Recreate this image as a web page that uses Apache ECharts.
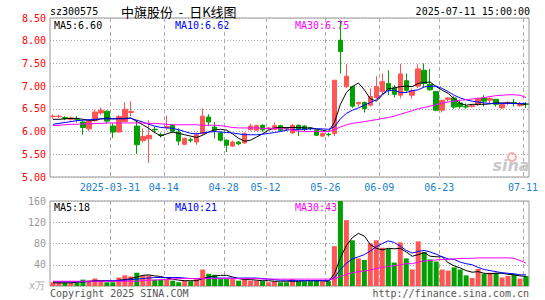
<!DOCTYPE html>
<html>
<head>
<meta charset="utf-8">
<script src="https://cdn.jsdelivr.net/npm/echarts@6/dist/echarts.min.js"></script>
<style>
html, body { margin: 0; padding: 0; background: #fff; }
#chart { width: 545px; height: 300px; }
</style>
</head>
<body>
<div id="chart"></div>
<script>
// 交易日
const dates = [
  '2025-03-17','2025-03-18','2025-03-19','2025-03-20','2025-03-21','2025-03-24','2025-03-25','2025-03-26','2025-03-27','2025-03-28',
  '2025-03-31','2025-04-01','2025-04-02','2025-04-03','2025-04-07','2025-04-08','2025-04-09','2025-04-10','2025-04-11','2025-04-14',
  '2025-04-15','2025-04-16','2025-04-17','2025-04-18','2025-04-21','2025-04-22','2025-04-23','2025-04-24','2025-04-25','2025-04-28',
  '2025-04-29','2025-04-30','2025-05-06','2025-05-07','2025-05-08','2025-05-09','2025-05-12','2025-05-13','2025-05-14','2025-05-15',
  '2025-05-16','2025-05-19','2025-05-20','2025-05-21','2025-05-22','2025-05-23','2025-05-26','2025-05-27','2025-05-28','2025-05-29',
  '2025-05-30','2025-06-03','2025-06-04','2025-06-05','2025-06-06','2025-06-09','2025-06-10','2025-06-11','2025-06-12','2025-06-13',
  '2025-06-16','2025-06-17','2025-06-18','2025-06-19','2025-06-20','2025-06-23','2025-06-24','2025-06-25','2025-06-26','2025-06-27',
  '2025-06-30','2025-07-01','2025-07-02','2025-07-03','2025-07-04','2025-07-07','2025-07-08','2025-07-09','2025-07-10','2025-07-11'
]

const opens = [
  6.33,6.33,6.31,6.27,6.28,6.21,6.06,6.24,6.41,6.45,
  6.12,5.99,6.22,6.42,6.12,5.80,5.84,6.05,5.93,6.09,
  6.14,5.99,5.72,5.82,5.77,5.96,6.32,6.10,5.97,5.81,
  5.68,5.77,5.75,6.04,6.03,6.14,6.06,6.05,6.13,6.07,
  5.97,6.14,6.12,6.08,6.03,5.90,5.94,5.96,8.01,6.99,
  6.99,6.61,6.64,6.58,6.75,6.88,7.06,6.96,6.80,7.12,
  6.80,7.00,7.35,7.04,6.88,6.47,6.71,6.74,6.63,6.55,
  6.55,6.60,6.74,6.69,6.71,6.52,6.62,6.64,6.57,6.61
]
const closes = [
  6.34,6.34,6.29,6.30,6.27,6.09,6.24,6.43,6.47,6.23,
  5.99,6.33,6.49,6.44,5.71,5.89,5.92,6.04,5.92,6.11,
  6.01,5.79,5.85,5.81,5.93,6.34,6.21,6.03,5.81,5.70,
  5.77,5.73,5.96,6.12,6.13,6.04,6.08,6.13,6.03,6.06,
  6.14,6.05,6.05,6.07,5.92,5.96,5.93,7.13,7.76,7.22,
  6.56,6.64,6.51,6.77,6.99,7.10,6.92,6.82,7.27,6.91,
  6.90,7.38,7.06,6.92,6.47,6.69,6.74,6.54,6.55,6.54,
  6.57,6.73,6.67,6.73,6.60,6.60,6.64,6.63,6.60,6.60
]
const lows = [
  6.29,6.30,6.25,6.24,6.20,5.93,6.01,6.22,6.37,6.17,
  5.86,5.97,6.20,6.34,5.51,5.76,5.31,5.97,5.87,6.03,
  5.98,5.70,5.70,5.76,5.71,5.93,6.12,5.85,5.78,5.55,
  5.66,5.70,5.73,6.02,6.01,6.00,6.04,6.03,6.01,6.02,
  5.95,5.90,6.01,6.03,5.90,5.88,5.89,5.90,7.28,6.96,
  6.52,6.55,6.42,6.55,6.72,6.82,6.80,6.75,6.73,6.85,
  6.72,6.96,6.98,6.90,6.45,6.42,6.66,6.50,6.50,6.50,
  6.53,6.56,6.55,6.62,6.55,6.50,6.58,6.55,6.55,6.52
]
const highs = [
  6.38,6.37,6.34,6.33,6.34,6.23,6.26,6.48,6.53,6.46,
  6.18,6.36,6.65,6.67,6.25,6.07,6.25,6.10,5.98,6.35,
  6.16,6.07,5.87,5.87,5.98,6.51,6.38,6.21,6.00,5.83,
  5.80,5.79,5.98,6.17,6.15,6.16,6.10,6.20,6.15,6.10,
  6.16,6.15,6.14,6.10,6.05,5.98,5.97,7.13,8.45,7.48,
  7.01,6.66,6.66,6.95,7.22,7.28,7.35,7.02,7.49,7.28,
  6.95,7.48,7.50,7.38,6.90,6.70,6.76,6.78,6.70,6.62,
  6.60,6.75,6.80,6.75,6.72,6.62,6.67,6.72,6.65,6.65
]

const ma5 = [
  6.27,6.27,6.28,6.29,6.29,6.27,6.25,6.25,6.28,6.30,
  6.28,6.29,6.29,6.30,6.22,6.15,6.07,5.98,5.90,5.95,
  5.99,5.96,5.93,5.90,5.87,5.92,5.99,6.04,6.05,6.03,
  5.95,5.85,5.79,5.81,5.88,5.95,6.03,6.08,6.09,6.09,
  6.09,6.09,6.08,6.08,6.06,6.03,6.00,6.20,6.60,6.86,
  6.99,7.07,6.92,6.72,6.67,6.80,6.94,6.96,6.99,7.00,
  6.99,7.06,7.08,7.09,6.99,6.91,6.84,6.72,6.62,6.58,
  6.60,6.60,6.60,6.61,6.63,6.63,6.63,6.62,6.61,6.60
]
const ma10 = [
  6.16,6.18,6.20,6.22,6.24,6.25,6.26,6.27,6.28,6.28,
  6.28,6.28,6.28,6.29,6.25,6.21,6.16,6.12,6.09,6.08,
  6.07,6.04,6.00,5.96,5.95,5.97,5.99,6.00,5.99,5.98,
  5.97,5.95,5.93,5.93,5.93,5.94,5.96,5.98,6.00,6.03,
  6.05,6.05,6.05,6.06,6.06,6.06,6.05,6.10,6.28,6.40,
  6.47,6.52,6.58,6.64,6.70,6.82,6.90,6.91,6.86,6.86,
  6.90,6.92,6.98,7.00,7.00,6.95,6.88,6.80,6.74,6.70,
  6.67,6.65,6.63,6.62,6.62,6.62,6.62,6.62,6.62,6.62
]
const ma30 = [
  6.13,6.14,6.15,6.16,6.16,6.17,6.17,6.18,6.18,6.19,
  6.19,6.19,6.19,6.19,6.19,6.19,6.18,6.18,6.17,6.16,
  6.15,6.15,6.15,6.15,6.15,6.14,6.14,6.14,6.13,6.11,
  6.09,6.08,6.08,6.08,6.08,6.07,6.07,6.07,6.06,6.06,
  6.04,6.01,6.00,6.00,6.00,6.00,6.00,6.04,6.10,6.15,
  6.18,6.20,6.22,6.24,6.26,6.29,6.31,6.34,6.38,6.42,
  6.46,6.50,6.53,6.56,6.59,6.63,6.65,6.67,6.69,6.70,
  6.72,6.73,6.75,6.77,6.79,6.80,6.81,6.81,6.80,6.75
]

// 成交量（万手）
const volumes = [
  7,7,6,6,6,12,10,14,9,7,
  7,16,20,18,25,20,20,12,12,12,
  10,7,10,9,13,31,23,21,13,13,
  13,10,12,10,10,9,7,9,7,7,
  13,9,9,9,10,9,9,75,160,124,
  86,52,49,80,86,72,70,44,82,52,
  31,84,64,50,46,31,29,35,31,20,
  15,32,23,25,25,16,19,22,14,19
]
const volMa5 = [
  6,6,6,6,7,8,9,10,10,10,
  9,11,12,14,17,20,21,19,18,15,
  13,11,10,10,10,14,17,19,20,20,
  17,14,12,12,11,10,10,9,9,9,
  9,9,10,10,10,10,9,23,53,76,
  91,99,94,78,71,68,71,70,71,64,
  56,59,63,56,55,55,44,38,34,29,
  26,27,24,23,24,24,22,21,19,18
]
const volMa10 = [
  8,8,8,8,8,8,8,9,9,10,
  10,10,11,12,13,14,15,16,16,16,
  16,16,15,14,14,14,15,15,15,15,
  15,15,15,15,15,14,13,12,11,11,
  10,10,10,10,10,10,10,16,31,43,
  51,55,59,66,74,80,85,82,75,67,
  62,65,67,64,60,55,51,50,45,42,
  40,35,31,29,27,25,24,23,21,21
]
const volMa30 = [
  9,9,9,9,9,9,9,9,9,9,
  9,9,9,9,9,10,11,11,12,12,
  13,14,14,14,14,14,14,14,14,14,
  14,14,14,14,14,13,13,13,13,13,
  13,13,13,13,13,13,13,13,18,22,
  25,27,28,30,33,35,37,38,40,42,
  42,45,47,48,49,50,50,51,52,52,
  52,53,53,53,53,53,53,52,48,43
]

// 有竖虚线和日期标签的交易日
const markedIdx = [10, 19, 29, 36, 46, 55, 65, 79]

const RED = '#ff5555'
const GREEN = '#00a000'
const MONO = 'DejaVu Sans Mono'
const last = ma5.length - 1

const candleData = opens.map(function (o, i) {
  return [o, closes[i], lows[i], highs[i]]
})

const myChart = echarts.init(document.getElementById('chart'), null, { renderer: 'svg' })

function isMarked(idx) {
  return markedIdx.indexOf(idx) >= 0
}

// 竖虚线画在该K线的左边界
function dashSeries(axisIdx) {
  return {
    type: 'custom',
    xAxisIndex: axisIdx,
    yAxisIndex: axisIdx,
    silent: true,
    z: 1,
    data: markedIdx.map(function (i) { return [i] }),
    renderItem: function (params, api) {
      const cs = params.coordSys
      const x = api.coord([api.value(0), 0])[0] - api.size([1, 0])[0] / 2
      const px = Math.round(x) + 0.5
      return {
        type: 'line',
        shape: { x1: px, y1: cs.y, x2: px, y2: cs.y + cs.height },
        style: { stroke: '#aaa', fill: null, lineWidth: 1, lineDash: [4, 3] }
      }
    }
  }
}

function dotLine() {
  return {
    show: true,
    lineStyle: { color: '#aaa', type: [1, 2], width: 1 }
  }
}

function txt(x, y, text, color, align) {
  return {
    type: 'text',
    x: x,
    y: y,
    style: {
      text: text,
      fill: color,
      font: '10px "' + MONO + '"',
      textVerticalAlign: 'middle',
      textAlign: align || 'left'
    }
  }
}

myChart.setOption({
  backgroundColor: '#fff',
  animation: false,
  grid: [
    { left: 50, right: 16, top: 18, height: 159, show: true, borderColor: '#999', borderWidth: 1 },
    { left: 50, right: 16, top: 201, height: 85, show: true, borderColor: '#999', borderWidth: 1 }
  ],
  xAxis: [
    {
      type: 'category',
      gridIndex: 0,
      data: dates,
      boundaryGap: true,
      axisLine: { show: false },
      axisTick: { show: false },
      axisLabel: {
        interval: isMarked,
        formatter: function (v, idx) { return idx === 10 ? v : v.slice(5) },
        color: '#2080d0',
        fontFamily: MONO,
        fontSize: 10,
        margin: 5,
        padding: [0, 6, 0, 0]
      },
      splitLine: { show: false }
    },
    {
      type: 'category',
      gridIndex: 1,
      data: dates,
      boundaryGap: true,
      axisLine: { show: false },
      axisTick: { show: false },
      axisLabel: { show: false },
      splitLine: { show: false }
    }
  ],
  yAxis: [
    {
      type: 'value',
      gridIndex: 0,
      min: 5,
      max: 8.5,
      interval: 0.5,
      axisLine: { show: false },
      axisTick: { show: false },
      axisLabel: {
        formatter: function (v) { return v.toFixed(2) },
        color: '#ff0000',
        fontFamily: MONO,
        fontSize: 10,
        margin: 4
      },
      splitLine: dotLine()
    },
    {
      type: 'value',
      gridIndex: 1,
      min: 0,
      max: 160,
      interval: 40,
      axisLine: { show: false },
      axisTick: { show: false },
      axisLabel: {
        showMinLabel: false,
        color: '#999',
        fontFamily: MONO,
        fontSize: 10,
        margin: 4
      },
      splitLine: dotLine()
    }
  ],
  series: [
    dashSeries(0),
    dashSeries(1),
    {
      name: 'K',
      type: 'candlestick',
      xAxisIndex: 0,
      yAxisIndex: 0,
      barWidth: 5,
      z: 2,
      data: candleData,
      itemStyle: { color: RED, color0: GREEN, borderColor: RED, borderColor0: GREEN, borderWidth: 1 }
    },
    { name: 'MA5', type: 'line', data: ma5, showSymbol: false, lineStyle: { color: '#000', width: 1 }, z: 3 },
    { name: 'MA10', type: 'line', data: ma10, showSymbol: false, lineStyle: { color: '#0000ff', width: 1 }, z: 3 },
    { name: 'MA30', type: 'line', data: ma30, showSymbol: false, lineStyle: { color: '#ff00ff', width: 1 }, z: 3 },
    {
      name: 'VOL',
      type: 'bar',
      xAxisIndex: 1,
      yAxisIndex: 1,
      barWidth: 5,
      z: 2,
      data: volumes,
      itemStyle: {
        color: function (p) { return closes[p.dataIndex] >= opens[p.dataIndex] ? RED : GREEN }
      }
    },
    { name: 'VMA5', type: 'line', xAxisIndex: 1, yAxisIndex: 1, data: volMa5, showSymbol: false, lineStyle: { color: '#000', width: 1 }, z: 3 },
    { name: 'VMA10', type: 'line', xAxisIndex: 1, yAxisIndex: 1, data: volMa10, showSymbol: false, lineStyle: { color: '#0000ff', width: 1 }, z: 3 },
    { name: 'VMA30', type: 'line', xAxisIndex: 1, yAxisIndex: 1, data: volMa30, showSymbol: false, lineStyle: { color: '#ff00ff', width: 1 }, z: 3 }
  ],
  graphic: [
    txt(50, 11, 'sz300575', '#000'),
    {
      type: 'text', x: 121, y: 11,
      style: { text: '中旗股份\u00a0\u00a0-\u00a0\u00a0日K线图', fill: '#000', font: '13px "Noto Sans CJK SC"', textVerticalAlign: 'middle' }
    },
    txt(530, 11, '2025-07-11 15:00:00', '#000', 'right'),
    txt(54, 25, 'MA5:' + ma5[last].toFixed(2), '#000'),
    txt(175, 25, 'MA10:' + ma10[last].toFixed(2), '#0000ff'),
    txt(295, 25, 'MA30:' + ma30[last].toFixed(2), '#ff00ff'),
    txt(54, 207, 'MA5:' + volMa5[last], '#000'),
    txt(175, 207, 'MA10:' + volMa10[last], '#0000ff'),
    txt(295, 207, 'MA30:' + volMa30[last], '#ff00ff'),
    txt(29, 285, 'x万', '#aaa'),
    txt(50, 293, 'Copyright 2025 SINA.COM', '#555'),
    txt(529, 293, 'http://finance.sina.com.cn', '#555', 'right'),
    { type: 'circle', shape: { cx: 512, cy: 157, r: 4 }, style: { fill: 'none', stroke: '#f4b0b0', lineWidth: 2 }, z: 1 },
    {
      type: 'text', x: 511, y: 165, z: 1,
      style: { text: 'sina', fill: '#c8c8c8', font: 'italic bold 16px "DejaVu Sans"', textAlign: 'center', textVerticalAlign: 'middle' }
    }
  ]
})
</script>
</body>
</html>
